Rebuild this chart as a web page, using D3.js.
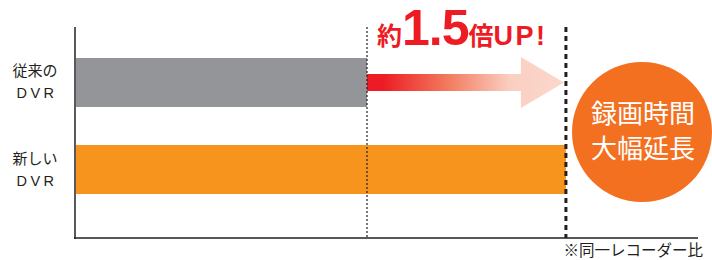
<!doctype html>
<html>
   <head>
      <meta charset="utf-8">
      <title>録画時間比較</title>
      <script src="https://d3js.org/d3.v7.min.js"></script>
      <style>
         body { margin:0; background:#fff; }
         .chart1 text { font-family:"Noto Sans CJK JP", "Noto Sans", sans-serif; }
      </style>
   </head>
   <body>
      <div class="chart1"></div>
      <script>
         // data
         var categories = ["従来の", "新しい"];
         var subLabels = ["DVR", "DVR"];
         var values = [1, 1.5];
         var barColors = ["#939598", "#f7941d"];
         var gainText = ["約", "1.5", "倍UP!"];
         var circleLines = ["録画時間", "大幅延長"];
         var footnote = "※同一レコーダー比";

         var width = 712;
         var height = 260;

         var svg = d3.select('.chart1').append('svg')
                     .attr('width', width)
                     .attr('height', height);

         var x = d3.scaleLinear().domain([0.266, 1.832]).range([75, 698]);
         var y = d3.scaleBand().domain(categories).range([58, 194])
                   .paddingInner(0.437).paddingOuter(0);

         var yTop = 27, yBottom = 238;

         var defs = svg.append("defs");
         var grad = defs.append("linearGradient")
                        .attr("id", "arrowGrad")
                        .attr("gradientUnits", "userSpaceOnUse")
                        .attr("x1", x(values[0])).attr("x2", x(values[1]))
                        .attr("y1", 0).attr("y2", 0);
         grad.append("stop").attr("offset", "0").attr("stop-color", "#ed1c24");
         grad.append("stop").attr("offset", "0.08").attr("stop-color", "#ed1c24");
         grad.append("stop").attr("offset", "0.4").attr("stop-color", "#f2795d");
         grad.append("stop").attr("offset", "0.72").attr("stop-color", "#facfc2");
         grad.append("stop").attr("offset", "1").attr("stop-color", "#fbd8cc");

         // bars
         svg.append("g").selectAll("rect")
            .data(values)
            .enter()
            .append("rect")
            .attr("x", x.range()[0])
            .attr("y", function(d, i) { return y(categories[i]); })
            .attr("width", function(d) { return x(d) - x.range()[0]; })
            .attr("height", y.bandwidth())
            .attr("fill", function(d, i) { return barColors[i]; });

         // arrow from old value to new value
         var ay = y(categories[0]) + y.bandwidth() / 2;
         var x0 = x(values[0]), x1 = x(values[1]) - 2;
         var headLen = 43, shaft = 8.5, head = 25.5;
         svg.append("path")
            .attr("d", "M" + x0 + "," + (ay - shaft) +
                       "L" + (x1 - headLen) + "," + (ay - shaft) +
                       "L" + (x1 - headLen) + "," + (ay - head) +
                       "L" + x1 + "," + ay +
                       "L" + (x1 - headLen) + "," + (ay + head) +
                       "L" + (x1 - headLen) + "," + (ay + shaft) +
                       "L" + x0 + "," + (ay + shaft) + "Z")
            .attr("fill", "url(#arrowGrad)");

         // reference lines
         svg.append("line")
            .attr("x1", x(values[0])).attr("x2", x(values[0]))
            .attr("y1", yTop).attr("y2", yBottom)
            .attr("stroke", "#231f20").attr("stroke-width", 1.2)
            .attr("stroke-dasharray", "2,2");
         svg.append("line")
            .attr("x1", x(values[1])).attr("x2", x(values[1]))
            .attr("y1", yTop).attr("y2", yBottom)
            .attr("stroke", "#231f20").attr("stroke-width", 3)
            .attr("stroke-dasharray", "5,4");

         // axes
         svg.append("line")
            .attr("x1", 75).attr("x2", 75).attr("y1", yTop).attr("y2", yBottom + 1)
            .attr("stroke", "#58595b").attr("stroke-width", 2);
         svg.append("line")
            .attr("x1", 74).attr("x2", x.range()[1]).attr("y1", yBottom).attr("y2", yBottom)
            .attr("stroke", "#231f20").attr("stroke-width", 1.6);

         // category labels
         var lab = svg.append("g").selectAll("g")
            .data(categories)
            .enter()
            .append("g")
            .attr("transform", function(d) { return "translate(35," + (y(d) + y.bandwidth() / 2) + ")"; });
         lab.append("text")
            .attr("y", -6)
            .attr("text-anchor", "middle")
            .style("font-size", "15px")
            .attr("fill", "#231f20")
            .text(function(d) { return d; });
         lab.append("text")
            .attr("x", 2)
            .attr("y", 16)
            .attr("text-anchor", "middle")
            .style("font-size", "14.5px")
            .style("letter-spacing", "3.5px")
            .style("font-family", "'Liberation Sans', Arial, sans-serif")
            .attr("fill", "#231f20")
            .text(function(d, i) { return subLabels[i]; });

         // gain title
         var t = svg.append("text")
                    .attr("x", 377).attr("y", 45)
                    .attr("fill", "#ed1c24")
                    .style("font-weight", "bold");
         t.append("tspan").text(gainText[0]).style("font-size", "25px");
         t.append("tspan").text(gainText[1]).style("font-size", "50px")
          .style("font-family", "'Liberation Sans', Arial, sans-serif")
          .style("letter-spacing", "-1px");
         t.append("tspan").text(gainText[2].slice(0, 1)).style("font-size", "25px");
         t.append("tspan").text(gainText[2].slice(1)).style("font-size", "27px")
          .style("font-family", "'Liberation Sans', Arial, sans-serif")
          .style("letter-spacing", "2.5px");

         // circle
         svg.append("circle")
            .attr("cx", 642).attr("cy", 132).attr("r", 70)
            .attr("fill", "#f37021");
         svg.append("g").selectAll("text")
            .data(circleLines)
            .enter()
            .append("text")
            .attr("x", 643)
            .attr("y", function(d, i) { return 123 + i * 35; })
            .attr("text-anchor", "middle")
            .attr("fill", "#fff")
            .style("font-size", "26px")
            .style("font-weight", "400")
            .text(function(d) { return d; });

         // footnote
         svg.append("text")
            .attr("x", 703).attr("y", 256)
            .attr("text-anchor", "end")
            .attr("fill", "#231f20")
            .style("font-size", "15.5px")
            .text(footnote);
      </script>
   </body>
</html>
